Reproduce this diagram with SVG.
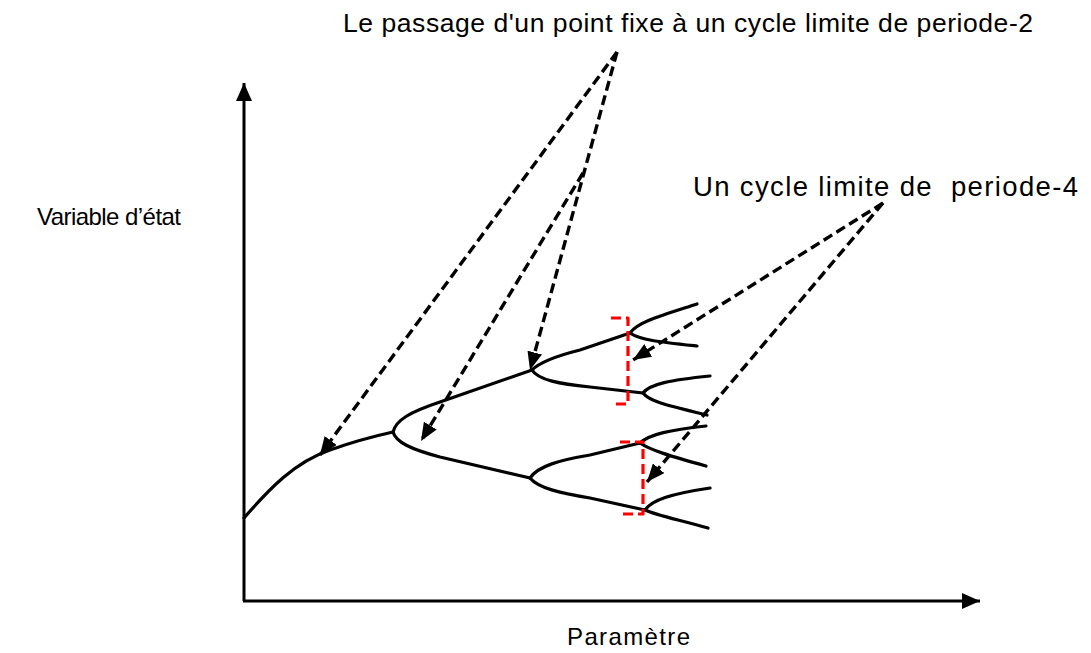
<svg xmlns="http://www.w3.org/2000/svg" width="1091" height="653" viewBox="0 0 1091 653">
<style>
.t{font-family:"Liberation Sans",Arial,sans-serif;font-size:24px;fill:#000;white-space:pre}
.big{font-size:26.5px}
.c{fill:none;stroke:#000;stroke-width:3.2;stroke-linecap:round}
.d{fill:none;stroke:#000;stroke-width:3.4;stroke-dasharray:10 5}
.r{fill:none;stroke:#f00;stroke-width:3.2;stroke-dasharray:10 5;stroke-linejoin:round}
.ax{fill:none;stroke:#000;stroke-width:3}
</style>
<defs>
<marker id="ah" markerUnits="userSpaceOnUse" viewBox="0 0 18 15" refX="18" refY="7.5" markerWidth="18" markerHeight="15" orient="auto">
<path d="M0,0 L18,7.5 L0,15 Z" fill="#000"/>
</marker>
<marker id="axh" markerUnits="userSpaceOnUse" viewBox="0 0 18 16" refX="18" refY="8" markerWidth="18" markerHeight="16" orient="auto">
<path d="M0,0 L18,8 L0,16 Z" fill="#000"/>
</marker>
</defs>
<rect width="1091" height="653" fill="#fff"/>
<g id="axes">
<line class="ax" x1="244" y1="601" x2="244" y2="83" marker-end="url(#axh)"/>
<line class="ax" x1="243" y1="601" x2="980" y2="601" marker-end="url(#axh)"/>
</g>
<g id="labels">
<text class="t big" x="343" y="32" textLength="690">Le passage d'un point fixe à un cycle limite de periode-2</text>
<text class="t big" x="693" y="196" textLength="385" style="font-size:27.5px" xml:space="preserve">Un cycle limite de  periode-4</text>
<text class="t" x="37" y="225" textLength="144">Variable d’état</text>
<text class="t" x="567" y="645" textLength="123">Paramètre</text>
</g>
<g id="bifurcation">
<path class="c" d="M244,518 C270,488 295,462 330,450 C355,441 375,436 393,432"/>
<path class="c" d="M393,432 C396,420 410,412 440,402 L532,370"/>
<path class="c" d="M393,432 C396,442 410,449 440,457 L530,478"/>
<path class="c" d="M532,370 C540,362 560,355 580,350 L630,333"/>
<path class="c" d="M532,370 C538,380 560,384 590,387 L643,393"/>
<path class="c" d="M630,333 C638,322 660,316 697,304"/>
<path class="c" d="M630,333 C640,340 660,342 697,346"/>
<path class="c" d="M643,393 C650,384 670,380 710,376"/>
<path class="c" d="M643,393 C650,402 670,406 707,415"/>
<path class="c" d="M530,478 C538,466 560,460 590,455 L640,443"/>
<path class="c" d="M530,478 C538,488 560,493 590,498 L645,510"/>
<path class="c" d="M640,443 C650,434 670,430 706,426"/>
<path class="c" d="M640,443 C650,450 670,456 706,466"/>
<path class="c" d="M645,510 C652,500 670,494 710,488"/>
<path class="c" d="M645,510 C655,515 680,520 708,528"/>
</g>
<g id="brackets">
<path class="r" d="M611,318 L628,318 L628,404 L611,404"/>
<path class="r" d="M620,442 L643,442 L643,514 L620,514"/>
</g>
<g id="connectors">
<line class="d" x1="617" y1="52" x2="320" y2="455" marker-end="url(#ah)"/>
<line class="d" x1="617" y1="52" x2="530" y2="370" marker-end="url(#ah)"/>
<line class="d" x1="583" y1="173" x2="421" y2="441" marker-end="url(#ah)"/>
<line class="d" x1="883" y1="203" x2="633" y2="360" marker-end="url(#ah)"/>
<line class="d" x1="883" y1="203" x2="647" y2="482" marker-end="url(#ah)"/>
</g>
</svg>
